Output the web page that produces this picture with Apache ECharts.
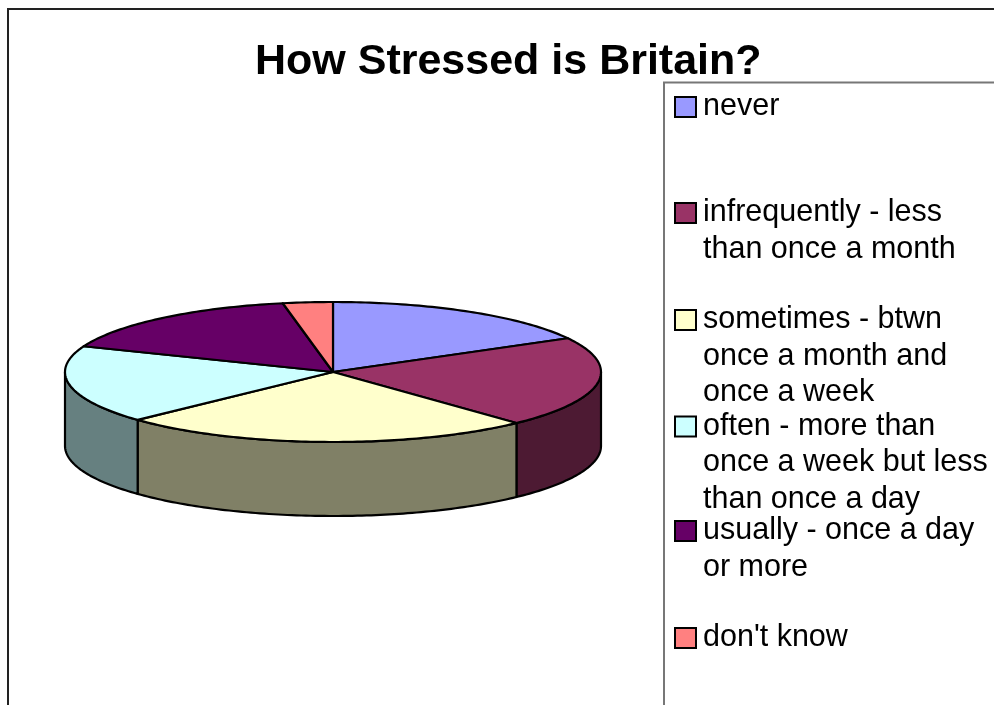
<!DOCTYPE html>
<html><head><meta charset="utf-8">
<script src="https://cdn.jsdelivr.net/npm/echarts@6/dist/echarts.min.js"></script>
<style>html,body{margin:0;padding:0;background:#fff}#chart{width:994px;height:705px}</style>
</head><body><div id="chart"></div>
<script>
// ---- data ----
const chartTitle = 'How Stressed is Britain?';
const categories = [
  'never',
  'infrequently - less than once a month',
  'sometimes - btwn once a month and once a week',
  'often - more than once a week but less than once a day',
  'usually - once a day or more',
  "don't know"
];
const legendLines = [
  ['never'],
  ['infrequently - less', 'than once a month'],
  ['sometimes - btwn', 'once a month and', 'once a week'],
  ['often - more than', 'once a week but less', 'than once a day'],
  ['usually - once a day', 'or more'],
  ["don't know"]
];
const values = [17, 21, 25, 18, 16, 3];
const topColors = ['#9999FF', '#993366', '#FFFFCC', '#CCFFFF', '#660066', '#FF8080'];
const sideColors = ['#4D4D80', '#4D1A33', '#808066', '#668080', '#330033', '#804040'];

// ---- layout (pixels) ----
const CX = 333, CY = 372, RX = 268, RY = 70, DEPTH = 74;
const LEGEND_CENTERS = [107, 213, 320, 426.5, 531, 638];
const LH = 36.5;

const total = values.reduce((a, b) => a + b, 0);
const cumBefore = values.map((v, i) => values.slice(0, i).reduce((a, b) => a + b, 0));

function pt(t, dy) {
  return [CX + RX * Math.sin(t), CY - RY * Math.cos(t) + dy];
}
function arc(a, b, dy) {
  const pts = [];
  const n = Math.max(2, Math.ceil((b - a) / (Math.PI / 180)));
  for (let k = 0; k <= n; k++) pts.push(pt(a + (b - a) * k / n, dy));
  return pts;
}

function renderSlice(i) {
  return function (params, api) {
    const v = api.value(0), before = api.value(1), tot = api.value(2);
    const a0 = before / tot * Math.PI * 2;
    const a1 = (before + v) / tot * Math.PI * 2;
    const children = [];
    const s = Math.max(a0, Math.PI / 2), e = Math.min(a1, Math.PI * 1.5);
    if (e > s) {
      const pts = arc(s, e, 0).concat(arc(s, e, DEPTH).reverse());
      children.push({
        type: 'polygon', shape: { points: pts },
        style: { fill: sideColors[i], stroke: '#000', lineWidth: 2.2, lineJoin: 'round' }
      });
    }
    const topPts = [[CX, CY]].concat(arc(a0, a1, 0));
    children.push({
      type: 'polygon', shape: { points: topPts },
      style: { fill: api.visual('color'), stroke: '#000', lineWidth: 2.2, lineJoin: 'round' }
    });
    return { type: 'group', children: children };
  };
}

const series = categories.map((name, i) => ({
  type: 'custom',
  name: name,
  coordinateSystem: 'none',
  itemStyle: { color: topColors[i] },
  data: [[values[i], cumBefore[i], total]],
  renderItem: renderSlice(i),
  silent: true
}));

const legends = categories.map((name, i) => {
  const n = legendLines[i].length;
  const half = Math.max(10, (2 * n - 1) * LH / 2);
  return {
    data: [name],
    orient: 'vertical',
    left: 674,
    top: LEGEND_CENTERS[i] - half,
    padding: 0,
    itemWidth: 21,
    itemHeight: 20,
    icon: 'rect',
    selectedMode: false,
    itemStyle: { borderColor: '#000', borderWidth: 2 },
    formatter: () => '\n'.repeat(n - 1) + legendLines[i].join('\n'),
    textStyle: { fontSize: 30.5, lineHeight: LH, color: '#000', padding: [0, 0, 0, 2], fontFamily: 'Liberation Sans, Arial, sans-serif' }
  };
});

const chart = echarts.init(document.getElementById('chart'));
chart.setOption({
  animation: false,
  backgroundColor: '#fff',
  title: {
    text: chartTitle,
    left: 255, top: 41, padding: 0,
    textStyle: { fontSize: 43, fontWeight: 'bold', color: '#000', fontFamily: 'Liberation Sans, Arial, sans-serif' }
  },
  graphic: [
    { type: 'rect', z: -10, silent: true, shape: { x: 8, y: 9, width: 1000, height: 720 }, style: { fill: 'none', stroke: '#222', lineWidth: 2 } },
    { type: 'rect', z: -10, silent: true, shape: { x: 664, y: 82.5, width: 400, height: 700 }, style: { fill: 'none', stroke: '#777', lineWidth: 2 } }
  ],
  legend: legends,
  series: series
});
</script>
</body></html>
